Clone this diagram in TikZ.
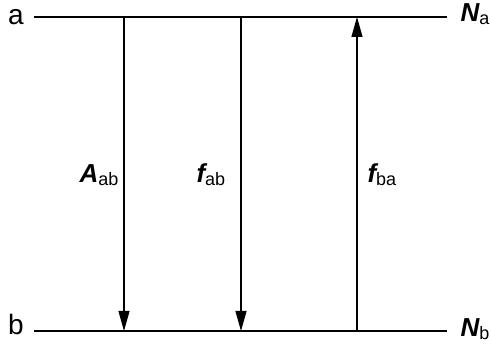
\documentclass[tikz,border=0pt]{standalone}
\usepackage{fontspec}
\setmainfont{Liberation Sans}
\usetikzlibrary{arrows.meta, positioning}
\newcommand{\symsub}[2]{{\bfseries\itshape #1}\raisebox{-0.15ex}{\fontsize{18}{18}\selectfont #2}}

\begin{document}
\begin{tikzpicture}[
    x=1pt, y=-1pt,
    >={Triangle[length=20pt,width=11pt]}, line width=1.1pt,
    every node/.style={font=\fontsize{26}{26}\selectfont, inner sep=0pt},
    lvl/.style={font=\fontsize{28}{28}\selectfont, anchor=base},
    lbl/.style={anchor=base west}
]
    \useasboundingbox (0,0) rectangle (491,350);

    % levels
    \node[lvl] (la) at (16,25) {a};
    \node[lvl] (lb) at (16,335) {b};
    \node[lbl] (Na) at (460,22) {\symsub{N}{a}};
    \node[lbl] (Nb) at (460,337) {\symsub{N}{b}};
    \coordinate (a0) at (34,17);  \coordinate (a9) at (447,17);
    \coordinate (b0) at (34,331); \coordinate (b9) at (447,331);
    \draw (a0) -- (a9);
    \draw (b0) -- (b9);

    % transitions
    \coordinate (t1) at (124,17);  \coordinate (u1) at (124,331);
    \coordinate (t2) at (241,17);  \coordinate (u2) at (241,331);
    \coordinate (t3) at (357,17);  \coordinate (u3) at (357,331);
    \draw[->] (t1) -- (u1);
    \draw[->] (t2) -- (u2);
    \draw[->] (u3) -- (t3);

    \node[lbl] (Aab) at (79,183) {\symsub{A}{ab}};
    \node[lbl] (fab) at (196,183) {\symsub{f}{ab}};
    \node[lbl] (fba) at (367,183) {\symsub{f}{ba}};
\end{tikzpicture}
\end{document}
